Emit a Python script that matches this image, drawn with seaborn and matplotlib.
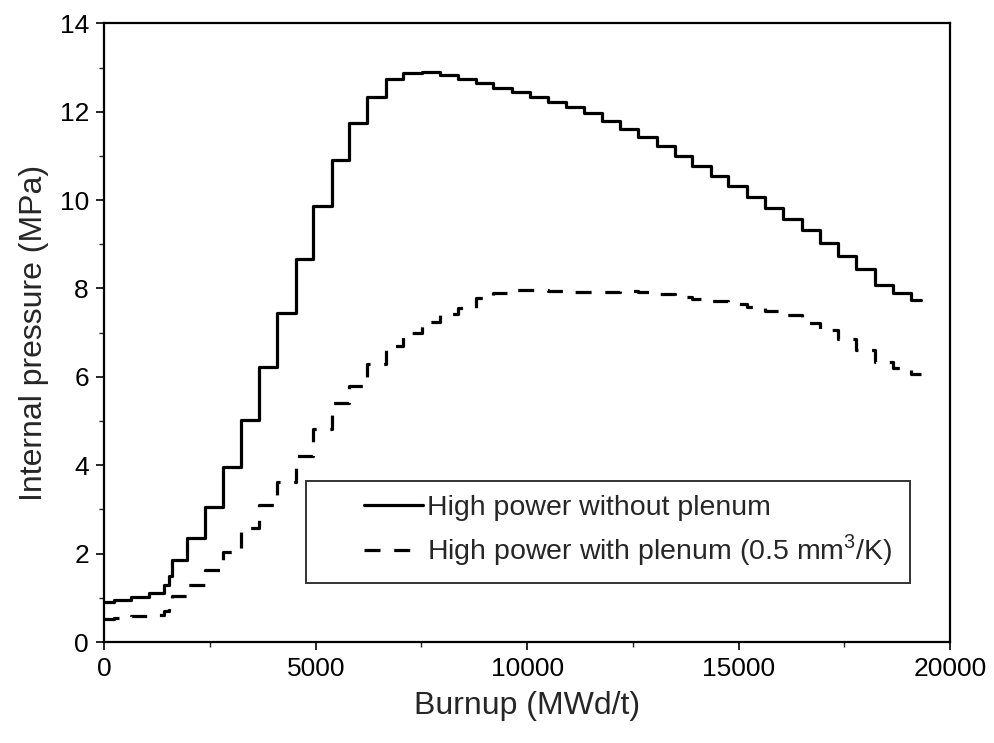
import matplotlib
matplotlib.use("Agg")
import numpy as np
import matplotlib.pyplot as plt
from matplotlib.ticker import MultipleLocator
from matplotlib.legend_handler import HandlerLine2D
import seaborn as sns
import pandas as pd

burnup = [0, 235, 628, 1060, 1413, 1530, 1609, 1960, 2380, 2800, 3230, 3660, 4090,
          4525, 4941, 5376, 5792, 6217, 6652, 7068, 7503, 7936, 8369, 8787, 9196,
          9631, 10064, 10497, 10915, 11341, 11766, 12192, 12624, 13059, 13493, 13910,
          14343, 14758, 15193, 15626, 16058, 16493, 16926, 17351, 17786, 18219, 18652,
          19087, 19323]

p_no_plenum = [0.90, 0.95, 1.01, 1.12, 1.28, 1.50, 1.85, 2.36, 3.06, 3.97, 5.02, 6.22, 7.45,
               8.67, 9.87, 10.90, 11.74, 12.33, 12.74, 12.87, 12.90, 12.82, 12.74, 12.65, 12.53,
               12.44, 12.34, 12.22, 12.10, 11.96, 11.79, 11.62, 11.43, 11.22, 11.00, 10.77,
               10.55, 10.32, 10.07, 9.83, 9.57, 9.32, 9.04, 8.73, 8.43, 8.08, 7.90,
               7.74, 7.74]

p_plenum = [0.52, 0.55, 0.60, 0.62, 0.70, 0.80, 1.05, 1.28, 1.62, 2.04, 2.57, 3.10, 3.63,
            4.20, 4.81, 5.40, 5.80, 6.30, 6.70, 7.00, 7.25, 7.42, 7.56, 7.78, 7.90,
            7.96, 7.96, 7.95, 7.93, 7.92, 7.93, 7.95, 7.93, 7.88, 7.80, 7.76,
            7.72, 7.65, 7.59, 7.49, 7.40, 7.23, 7.07, 6.85, 6.61, 6.34, 6.20,
            6.06, 6.06]

labels = ["High power without plenum", "High power with plenum (0.5 mm$^3$/K)"]


class OffsetLineHandler(HandlerLine2D):
    """Draw the legend line only in the right part of the handle box."""
    def get_xdata(self, legend, xdescent, ydescent, width, height, fontsize):
        xdata = np.array([-xdescent + 0.42 * width, -xdescent + width])
        return xdata, xdata


sns.set_style("ticks")
plt.rcParams['font.family'] = ['Liberation Sans', 'DejaVu Sans']
plt.rcParams['mathtext.fontset'] = 'custom'
plt.rcParams['mathtext.rm'] = 'Liberation Sans'

fig = plt.figure(figsize=(9.95, 7.43), dpi=100)
ax = fig.add_axes([0.1048, 0.1359, 0.85, 0.8327])

df1 = pd.DataFrame({"x": burnup, "y": p_no_plenum})
df2 = pd.DataFrame({"x": burnup, "y": p_plenum})
sns.lineplot(data=df1, x="x", y="y", ax=ax, color="black", linewidth=2.3,
             drawstyle="steps-post", estimator=None, label=labels[0])
sns.lineplot(data=df2, x="x", y="y", ax=ax, color="black", linewidth=2.3,
             drawstyle="steps-post", estimator=None, label=labels[1])
ax.lines[1].set_dashes((5, 4.3))

ax.set_xlim(0, 20000)
ax.set_ylim(0, 14)
ax.xaxis.set_major_locator(MultipleLocator(5000))
ax.xaxis.set_minor_locator(MultipleLocator(2500))
ax.yaxis.set_major_locator(MultipleLocator(2))
ax.yaxis.set_minor_locator(MultipleLocator(1))
ax.tick_params(which="major", direction="out", length=6, width=1.2, labelsize=19,
               colors="black", pad=5)
ax.tick_params(which="minor", direction="out", length=3.5, width=1.0)
for s in ax.spines.values():
    s.set_visible(True)
    s.set_linewidth(1.6)
    s.set_color("black")

ax.set_xlabel("Burnup (MWd/t)", fontsize=23, labelpad=7)
ax.set_ylabel("Internal pressure (MPa)", fontsize=23, labelpad=8)

h, l = ax.get_legend_handles_labels()
leg = ax.legend(h, l, loc="lower left", bbox_to_anchor=(0.239, 0.096, 0.714, 0.153),
                mode="expand", fontsize=20.5, frameon=True, fancybox=False,
                handlelength=3.6, handletextpad=0.15, borderaxespad=0, borderpad=0.5,
                labelspacing=0.4,
                handler_map={hh: OffsetLineHandler() for hh in h})
leg.get_frame().set_edgecolor("black")
leg.get_frame().set_linewidth(1.4)

fig.savefig("out.png", dpi=100)
